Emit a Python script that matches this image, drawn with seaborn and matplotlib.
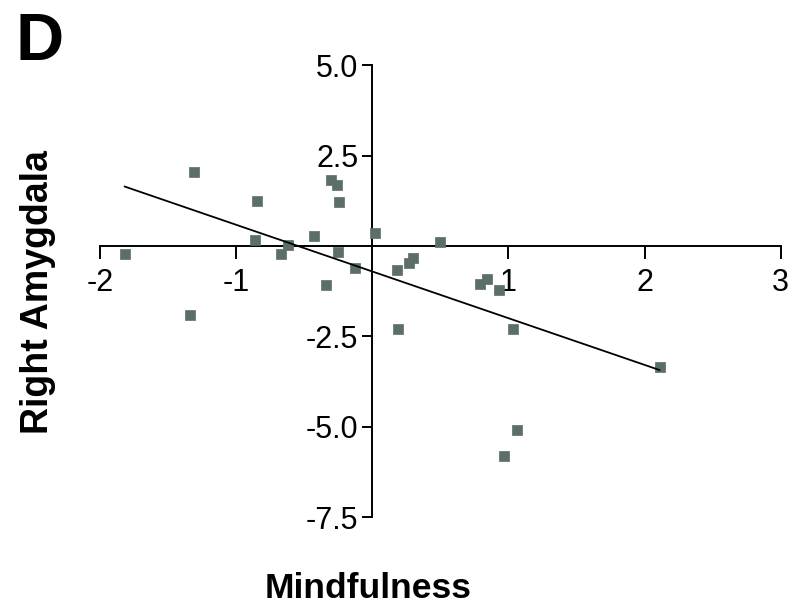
import matplotlib
matplotlib.use("Agg")
import matplotlib.pyplot as plt
import seaborn as sns
import pandas as pd

# Data
mindfulness = [-1.82, -1.31, -1.34, -0.85, -0.86, -0.67, -0.62, -0.43, -0.30, -0.26,
               -0.245, -0.25, -0.34, -0.13, 0.02, 0.495, 0.18, 0.27, 0.30, 0.19,
               0.79, 0.84, 0.93, 1.03, 2.11, 1.06, 0.97]
right_amygdala = [-0.21, 2.04, -1.90, 1.24, 0.16, -0.23, 0.02, 0.29, 1.84, 1.70,
                  1.22, -0.17, -1.07, -0.61, 0.35, 0.11, -0.67, -0.46, -0.32, -2.28,
                  -1.06, -0.92, -1.22, -2.28, -3.35, -5.08, -5.81]
x_ticks = [-2, -1, 1, 2, 3]
x_tick_labels = ["-2", "-1", "1", "2", "3"]
y_ticks = [5.0, 2.5, -2.5, -5.0, -7.5]
y_tick_labels = ["5.0", "2.5", "-2.5", "-5.0", "-7.5"]

df = pd.DataFrame({"Mindfulness": mindfulness, "Right Amygdala": right_amygdala})

sns.set_style("white")
plt.rcParams['font.family'] = ['Liberation Sans', 'DejaVu Sans']
plt.rcParams['text.color'] = 'black'
plt.rcParams['axes.labelcolor'] = 'black'

fig = plt.figure(figsize=(8, 6.1), dpi=100)
ax = fig.add_axes([0.125, 0.152, 0.851, 0.741])

sns.regplot(data=df, x="Mindfulness", y="Right Amygdala", ax=ax, ci=None, truncate=True,
            marker="s",
            scatter_kws=dict(s=58, color="#5b6e6a", edgecolor="#5b6e6a", linewidths=0.5,
                             alpha=1, zorder=3, clip_on=False),
            line_kws=dict(color="black", linewidth=1.3, zorder=4))

ax.set_xlim(-2, 3)
ax.set_ylim(-7.5, 5.0)

for s in ["top", "right"]:
    ax.spines[s].set_visible(False)
ax.spines["left"].set_position(("data", 0))
ax.spines["bottom"].set_position(("data", 0))
for s in ["left", "bottom"]:
    ax.spines[s].set_linewidth(1.4)
    ax.spines[s].set_color("black")
    ax.spines[s].set_zorder(2)

ax.set_xticks(x_ticks)
ax.set_xticklabels(x_tick_labels)
ax.set_yticks(y_ticks)
ax.set_yticklabels(y_tick_labels)
ax.tick_params(axis="x", direction="out", length=9, width=1.4, pad=7, labelsize=22,
               bottom=True, colors="black")
ax.tick_params(axis="y", direction="out", length=7, width=1.4, pad=3, labelsize=22,
               left=True, colors="black")

ax.set_xlabel("Mindfulness", fontsize=25.5, fontweight="bold", color="black")
ax.set_ylabel("Right Amygdala", fontsize=27, fontweight="bold", color="black")
ax.xaxis.set_label_coords(0.394, -0.120)
ax.yaxis.set_label_coords(-0.064, 0.498)

fig.text(15 / 800, 1 - 12 / 610, "D", fontsize=48, fontweight="bold", ha="left", va="top",
         color="black")

fig.savefig("out.png", dpi=100)
